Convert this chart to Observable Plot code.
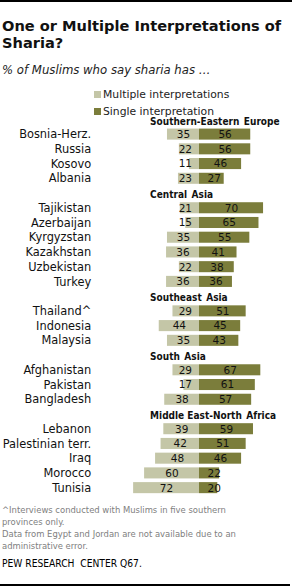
<!DOCTYPE html>
<html>
<head>
<meta charset="utf-8">
<script src="https://cdn.jsdelivr.net/npm/d3@7"></script>
<script src="https://cdn.jsdelivr.net/npm/@observablehq/plot@0.6"></script>
<style>
  html, body { margin: 0; padding: 0; background: #fff; }
  body { width: 292px; height: 587px; position: relative; overflow: hidden;
         font-family: "DejaVu Sans", sans-serif; color: #111; }
  .abs { position: absolute; white-space: nowrap; }
  #topline { left: 0; top: 0; width: 292px; height: 2px; background: #000; }
  #botline { left: 0; top: 584px; width: 290px; height: 2px; background: #000; }
  .title { left: 2px; font-size: 14.6px; line-height: 15px; font-weight: bold; color: #111; }
  #subtitle { left: 2px; top: 64px; font-size: 11.7px; line-height: 12px; font-style: italic; color: #222; }
  .leg { left: 94px; font-size: 10.8px; line-height: 12px; color: #222; }
  .sw { display: inline-block; width: 7px; height: 7px; margin-right: 2px; }
  #chart { left: 0; top: 100px; line-height: 0; }
  .foot { left: 2px; font-family: "DejaVu Sans Condensed", "DejaVu Sans", sans-serif; font-size: 9.4px; line-height: 11px; color: #808080; }
  #source { left: 2px; top: 558px; font-family: "DejaVu Sans Condensed", "DejaVu Sans", sans-serif; font-size: 10.2px; line-height: 12px; color: #000; }
</style>
</head>
<body>
<div id="topline" class="abs"></div>
<div class="abs title" style="top:17.7px">One or Multiple Interpretations of</div>
<div class="abs title" style="top:34.5px">Sharia?</div>
<div id="subtitle" class="abs">% of Muslims who say sharia has …</div>
<div id="leg1" class="abs leg" style="top:89.3px"><span class="sw" id="sw1"></span>Multiple interpretations</div>
<div id="leg2" class="abs leg" style="top:105.8px"><span class="sw" id="sw2"></span>Single interpretation</div>
<div id="chart" class="abs"></div>
<div class="abs foot" style="top:504.4px">^Interviews conducted with Muslims in five southern</div>
<div class="abs foot" style="top:516.1px">provinces only.</div>
<div class="abs foot" style="top:527.8px">Data from Egypt and Jordan are not available due to an</div>
<div class="abs foot" style="top:539.5px">administrative error.</div>
<div id="source" class="abs">PEW RESEARCH&nbsp; CENTER Q67.</div>
<div id="botline" class="abs"></div>
<script>
// ---- data ----
const regions = ["Southern-Eastern Europe", "Central Asia", "Southeast Asia", "South Asia", "Middle East-North Africa"];
const countries = ["Bosnia-Herz.", "Russia", "Kosovo", "Albania",
  "Tajikistan", "Azerbaijan", "Kyrgyzstan", "Kazakhstan", "Uzbekistan", "Turkey",
  "Thailand^", "Indonesia", "Malaysia",
  "Afghanistan", "Pakistan", "Bangladesh",
  "Lebanon", "Palestinian terr.", "Iraq", "Morocco", "Tunisia"];
const countryRegion = [0, 0, 0, 0, 1, 1, 1, 1, 1, 1, 2, 2, 2, 3, 3, 3, 4, 4, 4, 4, 4];
const multiple = [35, 22, 11, 23, 21, 15, 35, 36, 22, 36, 29, 44, 35, 29, 17, 38, 39, 42, 48, 60, 72];
const single = [56, 56, 46, 27, 70, 65, 55, 41, 38, 36, 51, 45, 43, 67, 61, 57, 59, 51, 46, 22, 20];
const seriesNames = ["Multiple interpretations", "Single interpretation"];
const colors = ["#c4c6a7", "#7b7d3b"];

// ---- build table ----
const data = countries.map((c, i) => ({country: c, region: regions[countryRegion[i]], multiple: multiple[i], single: single[i]}));
const rowKeys = [];
regions.forEach(r => {
  rowKeys.push(r);
  data.filter(d => d.region === r).forEach(d => rowKeys.push(d.country));
});
const headers = regions.map(r => ({region: r}));

document.getElementById("sw1").style.background = colors[0];
document.getElementById("sw2").style.background = colors[1];

const headerX = -54;      // left edge of region headers (data units)
const minMultLabel = -15.5;
const minSingleLabel = 16;

const chart = Plot.plot({
  width: 292,
  height: 398,
  marginTop: 12,
  marginBottom: 3,
  marginLeft: 107.5,
  marginRight: 1.5,
  style: {fontFamily: '"DejaVu Sans", sans-serif', color: "#111", background: "transparent"},
  x: {domain: [-100, 100], axis: null},
  y: {domain: rowKeys, paddingInner: 0.25, paddingOuter: 0.125, round: false, axis: null},
  marks: [
    Plot.barX(data, {y: "country", x1: 0, x2: d => -d.multiple, fill: colors[0]}),
    Plot.barX(data, {y: "country", x1: 0, x2: "single", fill: colors[1]}),
    Plot.text(data, {y: "country", x: d => Math.min(-d.multiple / 2, minMultLabel), text: d => String(d.multiple), fontSize: 10.5, fill: "#111"}),
    Plot.text(data, {y: "country", x: d => Math.max(d.single / 2, minSingleLabel), text: d => String(d.single), fontSize: 10.5, fill: "#111"}),
    Plot.text(headers, {y: "region", x: headerX, text: d => d.region.replace(/ (?=\S+$)/, "\u2002"), textAnchor: "start", fontSize: 10, fontWeight: "bold", fontFamily: '"DejaVu Sans Condensed", "DejaVu Sans", sans-serif', fill: "#111", dy: 1.5}),
    Plot.axisY(countries, {tickSize: 0, tickPadding: 16.8, fontSize: 11.4, label: null, anchor: "left"})
  ]
});
document.getElementById("chart").appendChild(chart);
</script>
</body>
</html>
